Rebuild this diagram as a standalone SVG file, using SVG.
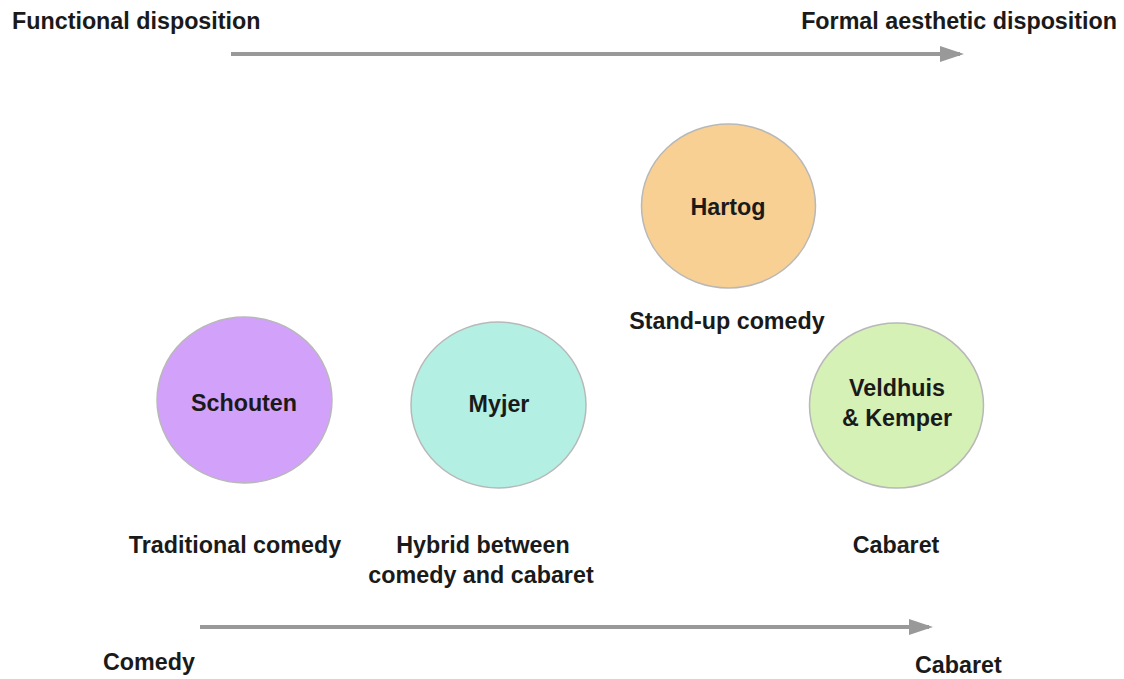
<svg xmlns="http://www.w3.org/2000/svg" width="1124" height="679" viewBox="0 0 1124 679">
<style>
text{font-family:"Liberation Sans",Arial,sans-serif;font-weight:bold;font-size:23.3px;fill:#1a1a1a}
.c{stroke:#b8b8b8;stroke-width:1.5}
.ax{stroke:#999;stroke-width:4;fill:none}
</style>
<defs>
<marker id="ah" markerWidth="6" markerHeight="4" refX="5" refY="2" orient="auto" markerUnits="strokeWidth">
<path d="M0,0 L6,2 L0,4 z" fill="#999"/>
</marker>
</defs>
<rect width="1124" height="679" fill="#fff"/>
<g id="connectors">
<line class="ax" x1="231" y1="54" x2="960" y2="54" marker-end="url(#ah)"/>
<line class="ax" x1="200" y1="627" x2="929" y2="627" marker-end="url(#ah)"/>
</g>
<g id="axis-labels">
<text x="12" y="29">Functional disposition</text>
<text x="1117" y="29" text-anchor="end">Formal aesthetic disposition</text>
<text x="103" y="670">Comedy</text>
<text x="915" y="673">Cabaret</text>
</g>
<g id="hartog">
<ellipse class="c" cx="728.5" cy="206" rx="87" ry="82" fill="#f8d093"/>
<text x="728" y="215" text-anchor="middle">Hartog</text>
<text x="727" y="329" text-anchor="middle">Stand-up comedy</text>
</g>
<g id="schouten">
<ellipse class="c" cx="244.5" cy="400" rx="87.5" ry="83" fill="#d2a1f9"/>
<text x="244" y="411" text-anchor="middle">Schouten</text>
<text x="235" y="553" text-anchor="middle">Traditional comedy</text>
</g>
<g id="myjer">
<ellipse class="c" cx="498.5" cy="405" rx="87.5" ry="83" fill="#b3f0e3"/>
<text x="499" y="412" text-anchor="middle">Myjer</text>
<text x="483" y="553" text-anchor="middle">Hybrid between</text>
<text x="481" y="583" text-anchor="middle">comedy and cabaret</text>
</g>
<g id="veldhuis">
<ellipse class="c" cx="896.5" cy="405.5" rx="87" ry="82.5" fill="#d5f1b5"/>
<text x="897" y="396" text-anchor="middle">Veldhuis</text>
<text x="897" y="426" text-anchor="middle">&amp; Kemper</text>
<text x="896" y="553" text-anchor="middle">Cabaret</text>
</g>
</svg>
